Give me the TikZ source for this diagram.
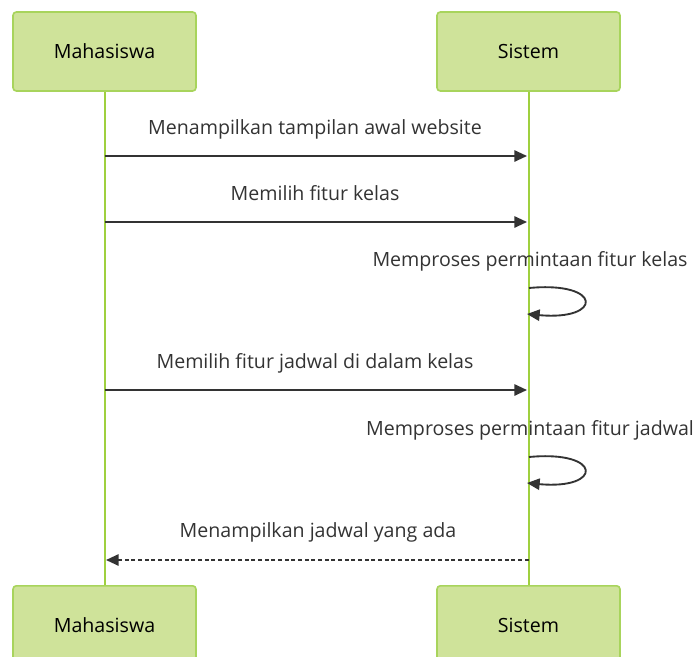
\documentclass[tikz,border=0pt]{standalone}
\usepackage{fontspec}
\setmainfont{Open Sans}
\usetikzlibrary{arrows.meta}
\definecolor{actorfill}{HTML}{CFE39A}
\definecolor{actorline}{HTML}{A8D45C}
\definecolor{lifeline}{HTML}{9FD03F}
\definecolor{msg}{HTML}{333333}
\tikzset{
  actor/.style={draw=actorline, line width=1.2pt, fill=actorfill, rounded corners=2.5pt,
    minimum width=137.25pt, minimum height=59.25pt, inner sep=0pt,
    font=\fontsize{14.7}{17}\selectfont, text=black},
  life/.style={draw=lifeline, line width=1.5pt},
  message/.style={draw=msg, line width=1.4pt, -{Triangle[length=9.5pt,width=8.5pt]}},
  reply/.style={message, dash pattern=on 3pt off 2pt},
  msglabel/.style={font=\fontsize{14.7}{17}\selectfont, text=msg, inner sep=0pt, anchor=base}
}
\begin{document}
\begin{tikzpicture}[x=0.75pt, y=-0.75pt]
\useasboundingbox (0,0) rectangle (697,657);
% participants
\node[actor] (mTop) at (104.5,51.5) {Mahasiswa};
\node[actor] (sTop) at (528.5,51.5) {Sistem};
\node[actor, anchor=north] (mBot) at (104.5,585) {Mahasiswa};
\node[actor, anchor=north] (sBot) at (528.5,585) {Sistem};
% lifelines
\draw[life] (mTop.south) -- (mBot.north);
\draw[life] (sTop.south) -- (sBot.north);
% message anchor points on the lifelines
\coordinate (m1) at (104.5,156); \coordinate (s1) at (527,156);
\coordinate (m2) at (104.5,222); \coordinate (s2) at (527,222);
\coordinate (a3) at (529,288);   \coordinate (b3) at (527,314);
\coordinate (m4) at (104.5,390); \coordinate (s4) at (527,390);
\coordinate (a5) at (529,457);   \coordinate (b5) at (527,483);
\coordinate (m6) at (106,560);   \coordinate (s6) at (528.5,560);
% messages
\draw[message] (m1) -- (s1);
\node[msglabel] (t1) at (315,134.5) {Menampilkan tampilan awal website};
\draw[message] (m2) -- (s2);
\node[msglabel] (t2) at (315,200.5) {Memilih fitur kelas};
\draw[message] (a3) .. controls (603,281) and (603,321) .. (b3);
\node[msglabel] (t3) at (530,266.5) {Memproses permintaan fitur kelas};
\draw[message] (m4) -- (s4);
\node[msglabel] (t4) at (315,368.5) {Memilih fitur jadwal di dalam kelas};
\draw[message] (a5) .. controls (603,450) and (603,490) .. (b5);
\node[msglabel] (t5) at (530,435.5) {Memproses permintaan fitur jadwal};
\draw[reply] (s6) -- (m6);
\node[msglabel] (t6) at (318,537.5) {Menampilkan jadwal yang ada};
\end{tikzpicture}
\end{document}
